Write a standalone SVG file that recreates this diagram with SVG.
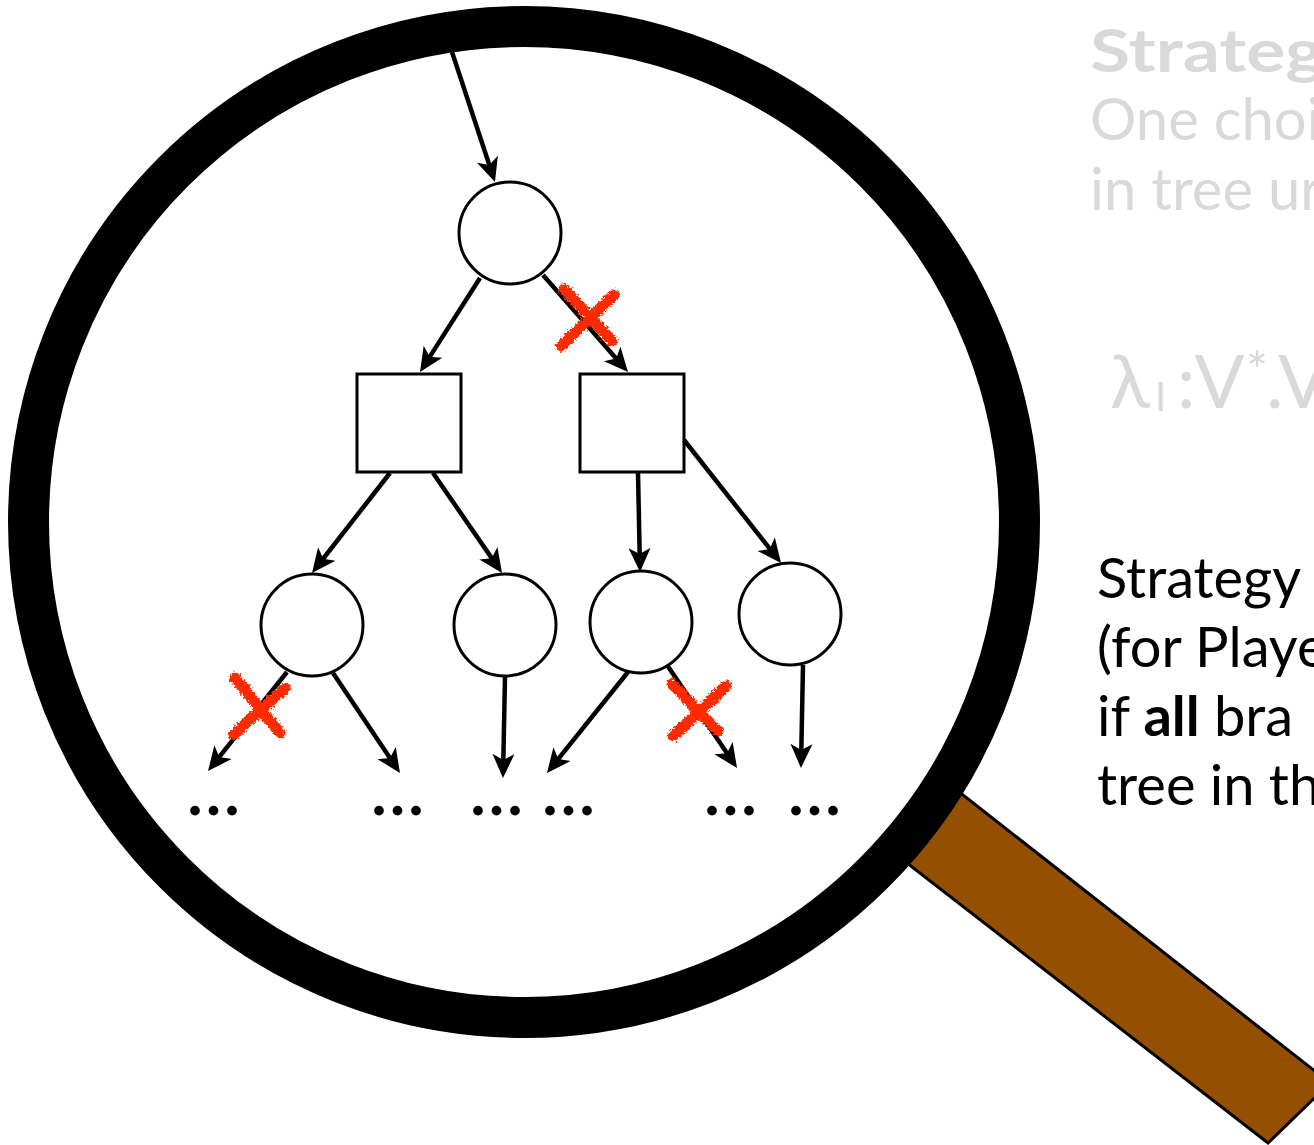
<svg xmlns="http://www.w3.org/2000/svg" width="1314" height="1145" viewBox="0 0 1314 1145">
  <style>
    .node { fill: #ffffff; stroke: #000000; stroke-width: 3; }
    .edge { fill: none; stroke: #000000; stroke-width: 4.5; marker-end: url(#arrow); }
    .cross { fill: none; stroke: #ff2a00; stroke-width: 11; stroke-linecap: round; filter: url(#rough); }
    .dots { font-family: "Liberation Serif", "Times New Roman", serif; font-weight: bold; font-size: 60px; letter-spacing: 3.5px; fill: #000000; }
    .faint { font-family: Lato, "Liberation Sans", sans-serif; fill: #d9d9d9; }
    .body { font-family: Lato, "Liberation Sans", sans-serif; font-size: 56px; fill: #000000; }
  </style>
  <defs>
    <marker id="arrow" markerUnits="userSpaceOnUse" markerWidth="28" markerHeight="26" viewBox="0 -13 28 26" refX="12" refY="0" orient="auto">
      <path d="M0,-11 L24,0 L0,11 L6,0 Z" fill="#000000"/>
    </marker>
    <filter id="rough" x="-25%" y="-25%" width="150%" height="150%">
      <feTurbulence type="fractalNoise" baseFrequency="0.45" numOctaves="2" seed="4" result="noise"/>
      <feDisplacementMap in="SourceGraphic" in2="noise" scale="7" xChannelSelector="R" yChannelSelector="G"/>
    </filter>
  </defs>

  <!-- magnifier handle, drawn beneath the lens -->
  <g id="handle">
    <polygon points="916,758 1330,1083 1268,1143 863,829" fill="#944f00" stroke="#000000" stroke-width="3" stroke-linejoin="miter"/>
  </g>

  <!-- lens -->
  <g id="lens">
    <circle cx="524" cy="522" r="495.5" fill="#ffffff" stroke="#000000" stroke-width="41"/>
  </g>

  <!-- game tree nodes -->
  <g id="root"><circle class="node" cx="510" cy="233" r="51"/></g>
  <g id="sq-left"><rect class="node" x="357" y="374" width="104" height="98"/></g>
  <g id="sq-right"><rect class="node" x="580" y="374" width="104" height="98"/></g>
  <g id="c1"><circle class="node" cx="312" cy="625" r="51"/></g>
  <g id="c2"><circle class="node" cx="505" cy="625" r="51"/></g>
  <g id="c3"><circle class="node" cx="641" cy="622" r="51"/></g>
  <g id="c4"><circle class="node" cx="790" cy="614" r="51"/></g>

  <!-- edges: each line stops 12px short of its arrow tip -->
  <g id="connectors">
    <line class="edge" x1="452" y1="52" x2="491.2" y2="170.6"/>
    <line class="edge" x1="480" y1="278" x2="426.5" y2="361.9"/>
    <line class="edge" x1="543" y1="275" x2="620.1" y2="363"/>
    <line class="edge" x1="390" y1="473" x2="319.4" y2="563.5"/>
    <line class="edge" x1="433" y1="473" x2="495.2" y2="563.1"/>
    <line class="edge" x1="638" y1="473" x2="639.8" y2="560"/>
    <line class="edge" x1="684" y1="440" x2="773.6" y2="553.6"/>
    <line class="edge" x1="287" y1="672" x2="215.5" y2="761.6"/>
    <line class="edge" x1="333" y1="673" x2="393.3" y2="763"/>
    <line class="edge" x1="505" y1="677" x2="503.2" y2="766"/>
    <line class="edge" x1="628" y1="672" x2="554.5" y2="763.6"/>
    <line class="edge" x1="667" y1="665" x2="730.3" y2="758.1"/>
    <line class="edge" x1="803" y1="665" x2="801.2" y2="756"/>
  </g>

  <!-- pruned branches -->
  <g id="crosses">
    <path class="cross" d="M564,289 L612,341 M614,295 L561,346"/>
    <path class="cross" d="M235,678 L280,733 M285,688 L233,735"/>
    <path class="cross" d="M672,684 L718,731 M726,686 L673,736"/>
  </g>

  <!-- continuation marks -->
  <g id="ellipses">
    <text class="dots" x="187.5" y="815">...</text>
    <text class="dots" x="371.5" y="815">...</text>
    <text class="dots" x="470.5" y="815">...</text>
    <text class="dots" x="542.5" y="815">...</text>
    <text class="dots" x="704.5" y="815">...</text>
    <text class="dots" x="788.5" y="815">...</text>
  </g>

  <!-- faded heading text -->
  <g id="faint-text">
    <text class="faint" x="1090" y="72" font-size="60" font-weight="bold" textLength="234" lengthAdjust="spacingAndGlyphs">Strateg</text>
    <text class="faint" x="1090" y="140" font-size="58">One choi</text>
    <text class="faint" x="1090" y="210" font-size="58">in tree ur</text>
    <text class="faint" y="408" font-size="74"><tspan x="1110">λ</tspan><tspan x="1155" y="411" font-size="40">I</tspan><tspan x="1177" y="408">:V</tspan><tspan x="1246" y="390" font-size="52">*</tspan><tspan x="1266" y="408">.V</tspan></text>
  </g>

  <!-- explanatory text -->
  <g id="body-text">
    <text class="body" x="1097" y="598">Strategy</text>
    <text class="body" x="1097" y="667">(for Playe</text>
    <text class="body" x="1097" y="736">if <tspan font-weight="bold">all</tspan> bra</text>
    <text class="body" x="1097" y="805">tree in th</text>
  </g>
</svg>
